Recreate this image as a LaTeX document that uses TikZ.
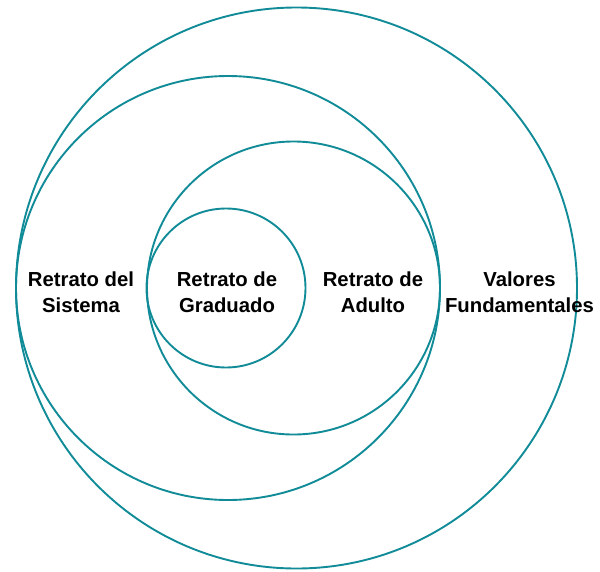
\documentclass[tikz,border=0pt]{standalone}
\usepackage{fontspec}
\setmainfont{Liberation Sans}
\definecolor{ringteal}{RGB}{16,139,151}

\begin{document}
\begin{tikzpicture}[x=1pt,y=-1pt,
    ring/.style={draw=ringteal, line width=1.9pt},
    lbl/.style={align=center, font=\bfseries\fontsize{20.3}{25.5}\selectfont}]
        \useasboundingbox (0,0) rectangle (600,571);
        % rings
        \draw[ring] (296.5,288) circle (280.5);
        \draw[ring] (228,288) circle (212);
        \draw[ring] (293.5,288) circle (146.5);
        \draw[ring] (226,288) circle (79.5);
        % labels
        \node[lbl] (sistema) at (81,292) {Retrato del\\Sistema};
        \node[lbl] (graduado) at (227,292) {Retrato de\\Graduado};
        \node[lbl] (adulto) at (373,292) {Retrato de\\Adulto};
        \node[lbl] (valores) at (519.5,292) {Valores\\Fundamentales};
    \end{tikzpicture}
\end{document}
